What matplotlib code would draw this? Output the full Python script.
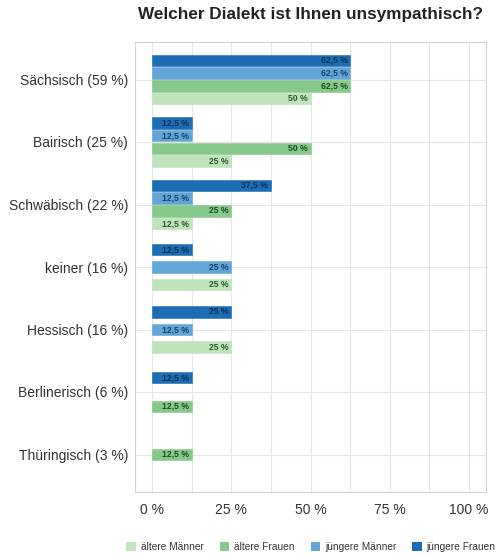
import matplotlib
matplotlib.use("Agg")
import matplotlib.pyplot as plt
from matplotlib.patches import Patch

plt.rcParams['font.family'] = ['Liberation Sans', 'DejaVu Sans']

dialects = ["Sächsisch (59 %)", "Bairisch (25 %)", "Schwäbisch (22 %)", "keiner (16 %)",
            "Hessisch (16 %)", "Berlinerisch (6 %)", "Thüringisch (3 %)"]
groups = ["jüngere Frauen", "jüngere Männer", "ältere Frauen", "ältere Männer"]
juengere_frauen = [62.5, 12.5, 37.5, 12.5, 25, 12.5, 0]
juengere_maenner = [62.5, 12.5, 12.5, 25, 12.5, 0, 0]
aeltere_frauen = [62.5, 50, 25, 0, 0, 12.5, 12.5]
aeltere_maenner = [50, 25, 12.5, 25, 25, 0, 0]
series = [juengere_frauen, juengere_maenner, aeltere_frauen, aeltere_maenner]

colors = ["#1c6db3", "#62a6d8", "#87c98b", "#bfe3bb"]
text_colors = ["#0d2f55", "#173f66", "#1d4a20", "#2b5a2b"]

fig = plt.figure(figsize=(5.01, 5.55), dpi=100)
ax = fig.add_axes([135 / 501, 1 - 492 / 555, 351 / 501, 450 / 555])

# spacing between bars of one group, by number of non-empty bars
steps = {1: 0.0, 2: 0.46, 3: 0.28, 4: 0.203}
bar_h = 0.185
for i, name in enumerate(dialects):
    vals = [(k, s[i]) for k, s in enumerate(series) if s[i] > 0]
    n = len(vals)
    step = steps[n]
    for j, (k, v) in enumerate(vals):
        y = i + (j - (n - 1) / 2) * step
        ax.barh(y, v, height=bar_h, color=colors[k], edgecolor=colors[k], linewidth=0.4, zorder=3)
        ax.text(v - 0.8, y, f"{v:g} %".replace(".", ","), ha="right", va="center",
                fontsize=6.2, color=text_colors[k], fontweight="bold", zorder=4)

ax.set_xlim(-5.4, 105.4)
ax.set_ylim(6.6, -0.6)
ax.set_xticks([0, 25, 50, 75, 100])
ax.set_xticklabels(["0 %", "25 %", "50 %", "75 %", "100 %"])
ax.set_xticks([12.5, 37.5, 62.5, 87.5], minor=True)
ax.set_yticks(range(len(dialects)))
ax.set_yticklabels(dialects)
ax.tick_params(axis="both", length=0, labelsize=10, colors="#333333")
ax.tick_params(axis="x", pad=8)
ax.tick_params(axis="y", pad=5)
ax.tick_params(which="minor", length=0)
ax.grid(True, which="both", axis="x", color="#e6e6e6", linewidth=0.8, zorder=0)
ax.grid(True, which="major", axis="y", color="#e6e6e6", linewidth=0.8, zorder=0)
for sp in ax.spines.values():
    sp.set_color("#d4d4d4")
    sp.set_linewidth(0.8)

fig.text(310 / 501, 1 - 15 / 555, "Welcher Dialekt ist Ihnen unsympathisch?", ha="center", va="center",
         fontsize=12.3, fontweight="bold", color="#222222")

handles = [Patch(facecolor=colors[k], label=groups[k]) for k in [3, 2, 1, 0]]
fig.legend(handles=handles, loc="center", bbox_to_anchor=(311 / 501, 1 - 547 / 555), ncol=4,
           frameon=False, fontsize=7.3, handlelength=0.9, handleheight=0.9, handletextpad=0.5,
           columnspacing=1.6, labelcolor="#333333")

fig.savefig("out.png", dpi=100)
